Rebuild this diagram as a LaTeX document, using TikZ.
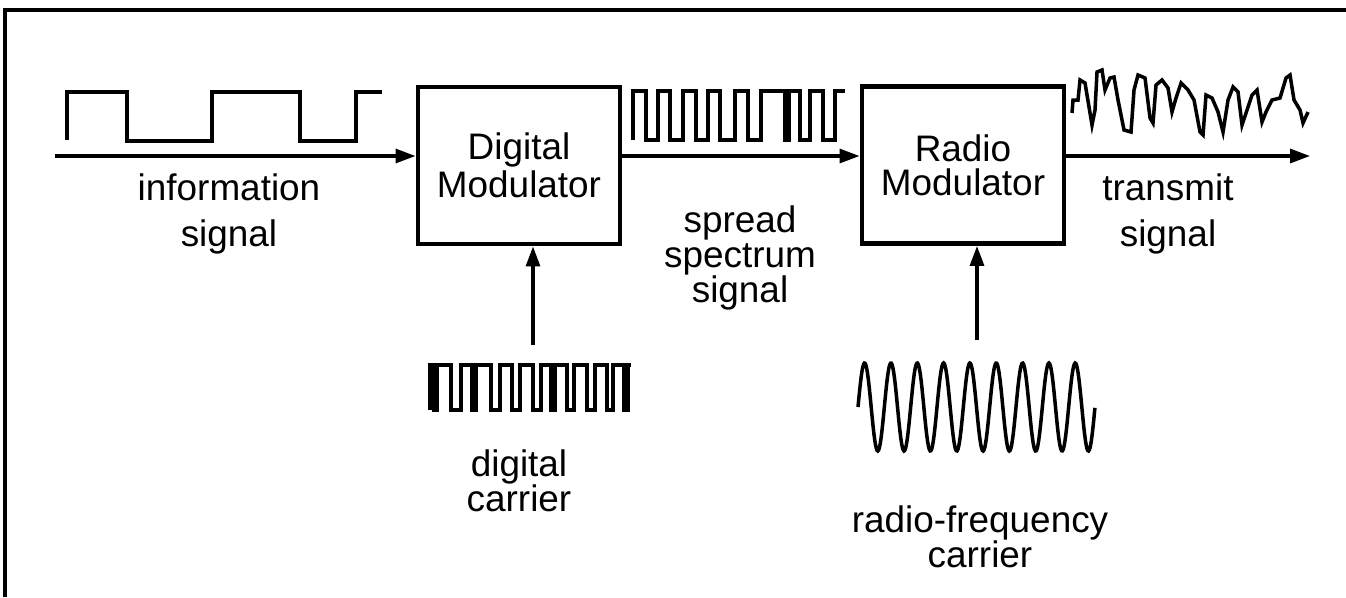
\documentclass[tikz,border=0pt]{standalone}
\usepackage{fontspec}
\setmainfont{Liberation Sans}
\usetikzlibrary{arrows.meta, positioning, calc}

\begin{document}
\begin{tikzpicture}[
  y=-1cm,
  >={Triangle[length=2mm, width=1.4mm]},
  blk/.style={draw, line width=1.4pt, minimum width=2.02cm, minimum height=1.57cm,
    inner sep=0pt, align=center, font=\fontsize{10.5}{9.6}\selectfont},
  lbl/.style={align=center, font=\fontsize{10.5}{9.9}\selectfont},
  lbw/.style={align=center, font=\fontsize{10.5}{13}\selectfont},
  wave/.style={line width=1pt, line join=miter},
  sig/.style={->, line width=0.9pt},
]

% Page frame
\useasboundingbox (0,0) rectangle (13.46,5.97);
\draw[line width=1.2pt] (13.46,0.10) -- (0.05,0.10) -- (0.05,5.97);

% === Blocks ===
\node[blk] (dmod) at (5.19,1.655) {Digital\\Modulator};
\node[blk] (rmod) at (9.63,1.65) {Radio\\Modulator};

% === Signal path ===
\coordinate (src) at (0.55,1.56);
\coordinate (dst) at (13.10,1.56);
\draw[sig] (src) -- (src -| dmod.west);
\draw[sig] (dmod.east |- src) -- (rmod.west |- src);
\draw[sig] (rmod.east |- dst) -- (dst);

% Carrier inputs
\coordinate (dcin) at (5.33,3.45);
\coordinate (rfin) at (9.77,3.40);
\draw[sig] (dcin) -- (dcin |- dmod.south);
\draw[sig] (rfin) -- (rfin |- rmod.south);

% === Labels ===
\node[lbw] (info) at (2.29,2.14) {information\\signal};
\node[lbl] (spread) at (7.40,2.58) {spread\\spectrum\\signal};
\node[lbw] (tx) at (11.68,2.14) {transmit\\signal};
\node[lbl] (dcar) at (5.19,4.81) {digital\\carrier};
\node[lbl] (rfcar) at (9.80,5.37) {radio-frequency\\carrier};

% === Waveforms ===
% information signal
\draw[wave] (0.67,1.40) |- (1.27,0.92) |- (2.12,1.41) |- (3.00,0.92)
  |- (3.56,1.41) |- (3.82,0.92);

% spread spectrum signal
\draw[wave] (6.33,1.40) |- (6.46,0.91) |- (6.58,1.40) |- (6.70,0.91)
  |- (6.83,1.40) |- (6.96,0.91) |- (7.08,1.40) |- (7.20,0.91)
  |- (7.35,1.40) |- (7.48,0.91) |- (7.61,1.40) |- (7.85,0.91)
  |- (7.89,1.40) |- (8.00,0.91) |- (8.10,1.40) |- (8.23,0.91)
  |- (8.35,1.40) |- (8.45,0.91);

% digital carrier
\draw[wave] (4.30,4.10) |- (4.34,3.65) |- (4.37,4.10) |- (4.51,3.65)
  |- (4.61,4.10) |- (4.72,3.65) |- (4.76,4.10) |- (4.91,3.65)
  |- (5.00,4.10) |- (5.12,3.65) |- (5.20,4.10) |- (5.33,3.65)
  |- (5.41,4.10) |- (5.51,3.65) |- (5.55,4.10) |- (5.67,3.65)
  |- (5.74,4.10) |- (5.87,3.65) |- (5.95,4.10) |- (6.07,3.65)
  |- (6.13,4.10) |- (6.24,3.65) |- (6.28,4.10) |- (6.31,3.65);

% radio-frequency carrier
\draw[wave] plot[domain=0:9, samples=300] ({8.58+\x*0.2633},{4.07-0.44*sin(\x*360)});

% transmit signal
\draw[wave] (10.72,1.13) -- (10.73,1.00) -- (10.78,1.00) -- (10.80,0.80)
  -- (10.85,0.83) -- (10.92,1.25) -- (10.95,1.10) -- (10.97,0.72)
  -- (11.02,0.70) -- (11.05,0.90) -- (11.10,0.78) -- (11.14,0.77)
  -- (11.18,1.00) -- (11.24,1.30) -- (11.31,1.32) -- (11.34,0.90)
  -- (11.38,0.75) -- (11.45,0.78) -- (11.50,1.18) -- (11.53,1.23)
  -- (11.56,0.85) -- (11.62,0.80) -- (11.68,0.88) -- (11.72,1.12)
  -- (11.76,0.98) -- (11.81,0.83) -- (11.88,0.90) -- (11.94,1.00)
  -- (12.00,1.32) -- (12.03,1.35) -- (12.06,0.95) -- (12.12,0.98)
  -- (12.18,1.12) -- (12.23,1.32) -- (12.28,1.00) -- (12.33,0.87)
  -- (12.38,0.92) -- (12.42,1.25) -- (12.47,1.10) -- (12.52,0.95)
  -- (12.57,0.90) -- (12.62,1.22) -- (12.66,1.12) -- (12.72,1.00)
  -- (12.80,0.98) -- (12.86,0.78) -- (12.90,0.75) -- (12.94,1.00)
  -- (13.00,1.10) -- (13.03,1.23) -- (13.08,1.12);

\end{tikzpicture}
\end{document}
